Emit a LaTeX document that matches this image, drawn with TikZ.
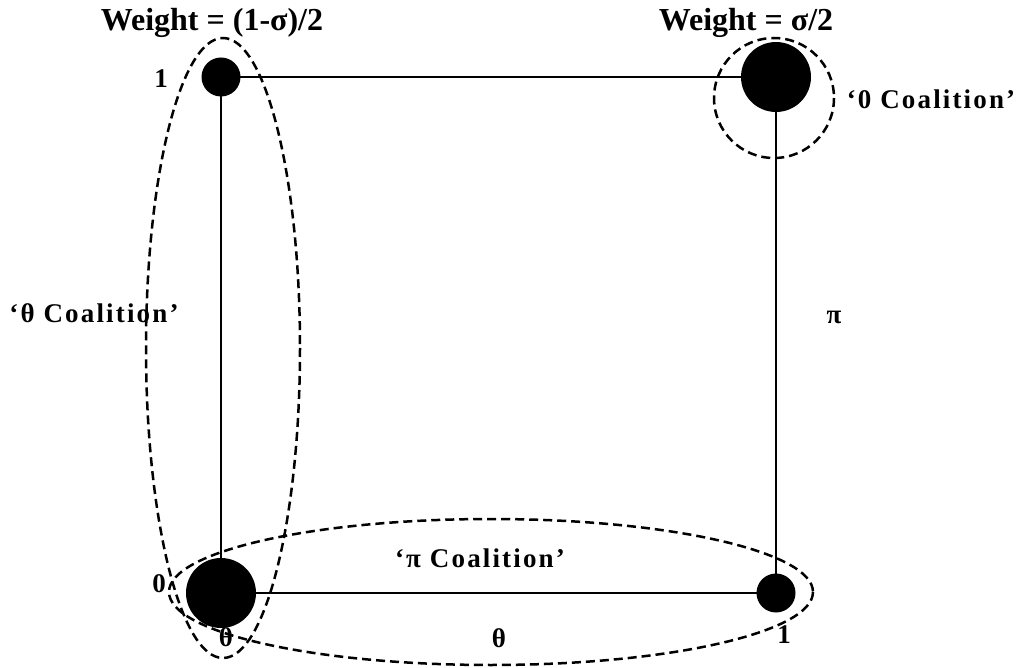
\documentclass[tikz,border=0pt]{standalone}
\usepackage{fontspec}
\setmainfont{Liberation Serif}
\newfontfamily\tagfont[LetterSpace=8]{Liberation Serif}
\tikzset{
  mass node/.style={circle,fill=black,inner sep=0pt},
  small mass/.style={mass node,minimum size=39pt},
  big mass/.style={mass node,minimum size=70pt},
  side edge/.style={line width=1.5pt},
  coalition ring/.style={line width=2.5pt,dash pattern=on 9pt off 5pt},
  tag text/.style={font=\tagfont\fontsize{27}{31}\selectfont\bfseries,inner sep=0pt},
  weight text/.style={font=\fontsize{32}{36}\selectfont\bfseries,inner sep=0pt},
}

\begin{document}
\begin{tikzpicture}[x=1pt,y=-1pt]
  \useasboundingbox (0,0) rectangle (1018,668);
  % corners of the square
  \node[small mass] (tl) at (221,77) {};
  \node[big mass] (tr) at (776,77) {};
  \node[big mass] (bl) at (221,593) {};
  \node[small mass] (br) at (776,593) {};
  \draw[side edge] (tl.center) -- (tr.center);
  \draw[side edge] (tr.center) -- (br.center);
  \draw[side edge] (br.center) -- (bl.center);
  \draw[side edge] (bl.center) -- (tl.center);
  % coalitions
  \draw[coalition ring] (223,348) ellipse [x radius=77,y radius=310];
  \draw[coalition ring] (491,592) ellipse [x radius=322,y radius=73];
  \draw[coalition ring] (774,98) circle [radius=60];
  % labels
  \node[weight text] (wl) at (212,23) {Weight = (1-σ)/2};
  \node[weight text] (wr) at (746,23) {Weight = σ/2};
  \node[tag text] (one top) at (161,79) {1};
  \node[tag text] (zero) at (159,584) {0};
  \node[tag text] (theta low) at (226,637) {θ};
  \node[tag text] (one low) at (784,635) {1};
  \node[tag text] (theta mid) at (499,638) {θ};
  \node[tag text] (pi side) at (834,317) {π};
  \node[tag text] (c0) at (931,99) {‘0 Coalition’};
  \node[tag text] (ctheta) at (94,313) {‘θ Coalition’};
  \node[tag text] (cpi) at (480,558) {‘π Coalition’};
\end{tikzpicture}
\end{document}
